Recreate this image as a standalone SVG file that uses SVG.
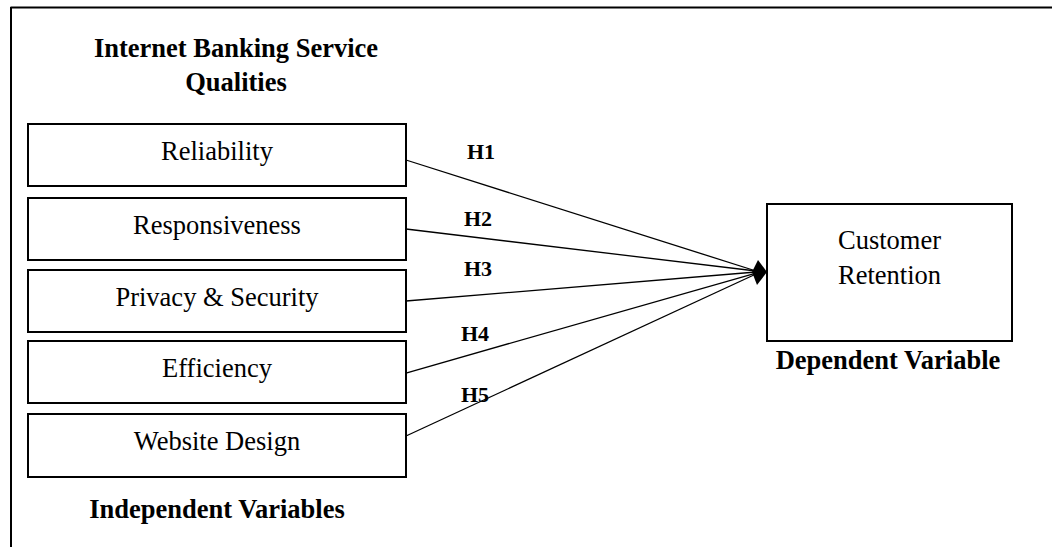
<svg xmlns="http://www.w3.org/2000/svg" width="1052" height="547" viewBox="0 0 1052 547">
<style>
.box{fill:#fff;stroke:#000;stroke-width:2}
.t{font-family:"Liberation Serif","Times New Roman",serif;font-size:26.5px;text-anchor:middle;fill:#000}
.b{font-family:"Liberation Serif","Times New Roman",serif;font-size:26.5px;font-weight:bold;text-anchor:middle;fill:#000}
.h{font-family:"Liberation Serif","Times New Roman",serif;font-size:22px;font-weight:bold;fill:#000}
.c{stroke:#000;stroke-width:1.3;fill:none}
</style>
<rect width="1052" height="547" fill="#fff"/>
<g id="frame">
<line x1="10.5" y1="7.5" x2="1052" y2="7.5" stroke="#000" stroke-width="2"/>
<line x1="11" y1="7" x2="11" y2="547" stroke="#000" stroke-width="2"/>
</g>
<g id="labels">
<text class="b" x="236" y="57">Internet Banking Service</text>
<text class="b" x="236" y="91">Qualities</text>
<text class="b" x="217" y="518">Independent Variables</text>
<text class="b" x="888" y="369">Dependent Variable</text>
</g>
<g id="connectors">
<line class="c" x1="406" y1="160" x2="756" y2="271"/>
<line class="c" x1="406" y1="229" x2="756" y2="271"/>
<line class="c" x1="406" y1="301" x2="756" y2="272"/>
<line class="c" x1="406" y1="373" x2="756" y2="273"/>
<line class="c" x1="406" y1="436" x2="756" y2="274"/>
<polygon points="752,272 758,260 767,272 757,285" fill="#000"/>
<text class="h" x="467" y="159">H1</text>
<text class="h" x="464" y="226">H2</text>
<text class="h" x="464" y="276">H3</text>
<text class="h" x="461" y="341">H4</text>
<text class="h" x="461" y="402">H5</text>
</g>
<g id="reliability">
<rect class="box" x="28" y="124" width="378" height="62"/>
<text class="t" x="217" y="160">Reliability</text>
</g>
<g id="responsiveness">
<rect class="box" x="28" y="198" width="378" height="62"/>
<text class="t" x="217" y="234">Responsiveness</text>
</g>
<g id="privacy">
<rect class="box" x="28" y="270" width="378" height="62"/>
<text class="t" x="217" y="306">Privacy &amp; Security</text>
</g>
<g id="efficiency">
<rect class="box" x="28" y="341" width="378" height="62"/>
<text class="t" x="217" y="377">Efficiency</text>
</g>
<g id="website">
<rect class="box" x="28" y="414" width="378" height="63"/>
<text class="t" x="217" y="450">Website Design</text>
</g>
<g id="retention">
<rect class="box" x="767" y="204" width="245" height="137"/>
<text class="t" x="889.5" y="249">Customer</text>
<text class="t" x="889.5" y="284">Retention</text>
</g>
</svg>
